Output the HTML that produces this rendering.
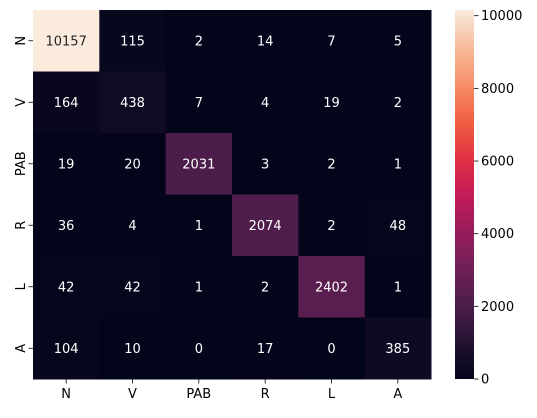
<!DOCTYPE html>
<html><head><meta charset="utf-8"><style>
body{margin:0;background:#fff;}
svg text{font-family:"DejaVu Sans","Liberation Sans",sans-serif;}
</style></head><body>
<svg id="chart" width="537" height="413" xmlns="http://www.w3.org/2000/svg">
<defs><linearGradient id="cbg" x1="0" y1="1" x2="0" y2="0"></linearGradient></defs>
<g id="cells"></g><g id="xt"></g><g id="yt"></g><g id="cb"></g>
</svg>
<script>
const labels=["N","V","PAB","R","L","A"];
const row0=[10157,115,2,14,7,5];
const row1=[164,438,7,4,19,2];
const row2=[19,20,2031,3,2,1];
const row3=[36,4,1,2074,2,48];
const row4=[42,42,1,2,2402,1];
const row5=[104,10,0,17,0,385];
const matrix=[row0,row1,row2,row3,row4,row5];
const cbTicks=[0,2000,4000,6000,8000,10000];

const X0=33,Y0=10,W=398,H=369,CBX=455,CBW=19,FS=13;
const vmax=Math.max(...matrix.flat()),vmin=0;
const stops=[[0,"#03051A"],[0.1,"#221331"],[0.2,"#4C1D4B"],[0.3,"#701F57"],[0.4,"#971C5B"],[0.5,"#C51B58"],[0.6,"#E13342"],[0.7,"#F06043"],[0.8,"#F6906A"],[0.9,"#F6BC9B"],[1,"#FAEBDD"]];
function hex(h){return [1,3,5].map(i=>parseInt(h.substr(i,2),16));}
function cmap(t){t=Math.max(0,Math.min(1,t));for(let i=1;i<stops.length;i++){if(t<=stops[i][0]){const a=stops[i-1],b=stops[i];const f=(t-a[0])/(b[0]-a[0]);const ca=hex(a[1]),cb=hex(b[1]);return "rgb("+ca.map((v,k)=>Math.round(v+(cb[k]-v)*f)).join(",")+")";}}return stops[stops.length-1][1];}
const n=labels.length,cw=W/n,ch=H/n;
const xS=i=>X0+i*cw, yS=j=>Y0+j*ch, cbY=v=>Y0+H-(v-vmin)/(vmax-vmin)*H;
const NS="http://www.w3.org/2000/svg";
function mk(tag,attrs,parent,txt){const e=document.createElementNS(NS,tag);for(const k in attrs)e.setAttribute(k,attrs[k]);if(txt!==undefined)e.textContent=txt;parent.appendChild(e);return e;}
const cells=document.getElementById('cells');
matrix.forEach((row,j)=>row.forEach((v,i)=>{
 const t=(v-vmin)/(vmax-vmin);
 const r=mk('rect',{x:xS(i),y:yS(j),width:cw+0.5,height:ch+0.5,fill:cmap(t)},cells);
 
 
 const tx=mk('text',{x:xS(i)+cw/2,y:yS(j)+ch/2+4.5,'text-anchor':'middle','font-size':FS,fill:t>0.6?'#262626':'#fff'},cells,String(v));
 
 
}));
const xt=document.getElementById('xt'),yt=document.getElementById('yt');
labels.forEach((l,i)=>{
 mk('line',{x1:xS(i)+cw/2,x2:xS(i)+cw/2,y1:Y0+H,y2:Y0+H+4.5,stroke:'#000','stroke-width':0.8},xt);
 const t=mk('text',{x:xS(i)+cw/2,y:Y0+H+19,'text-anchor':'middle','font-size':FS,fill:'#000'},xt,l);
 
 
 const yc=yS(i)+ch/2;
 mk('line',{x1:X0-4.5,x2:X0,y1:yc,y2:yc,stroke:'#000','stroke-width':0.8},yt);
 const u=mk('text',{x:0,y:0,'text-anchor':'middle','font-size':FS,fill:'#000',transform:`translate(${X0-8},${yc}) rotate(-90)`},yt,l);
 
 
});
const g=document.getElementById('cbg');
for(let k=0;k<=20;k++){mk('stop',{offset:k/20,'stop-color':cmap(k/20)},g);}
const cb=document.getElementById('cb');
const bar=mk('rect',{x:CBX,y:Y0,width:CBW,height:H,fill:'url(#cbg)'},cb);


cbTicks.forEach(v=>{const y=cbY(v);
 mk('line',{x1:CBX+CBW,x2:CBX+CBW+4.5,y1:y,y2:y,stroke:'#000','stroke-width':0.8},cb);
 const t=mk('text',{x:CBX+CBW+7,y:y+4.5,'font-size':FS,fill:'#000'},cb,String(v));
 
 
});
</script>
</body></html>
